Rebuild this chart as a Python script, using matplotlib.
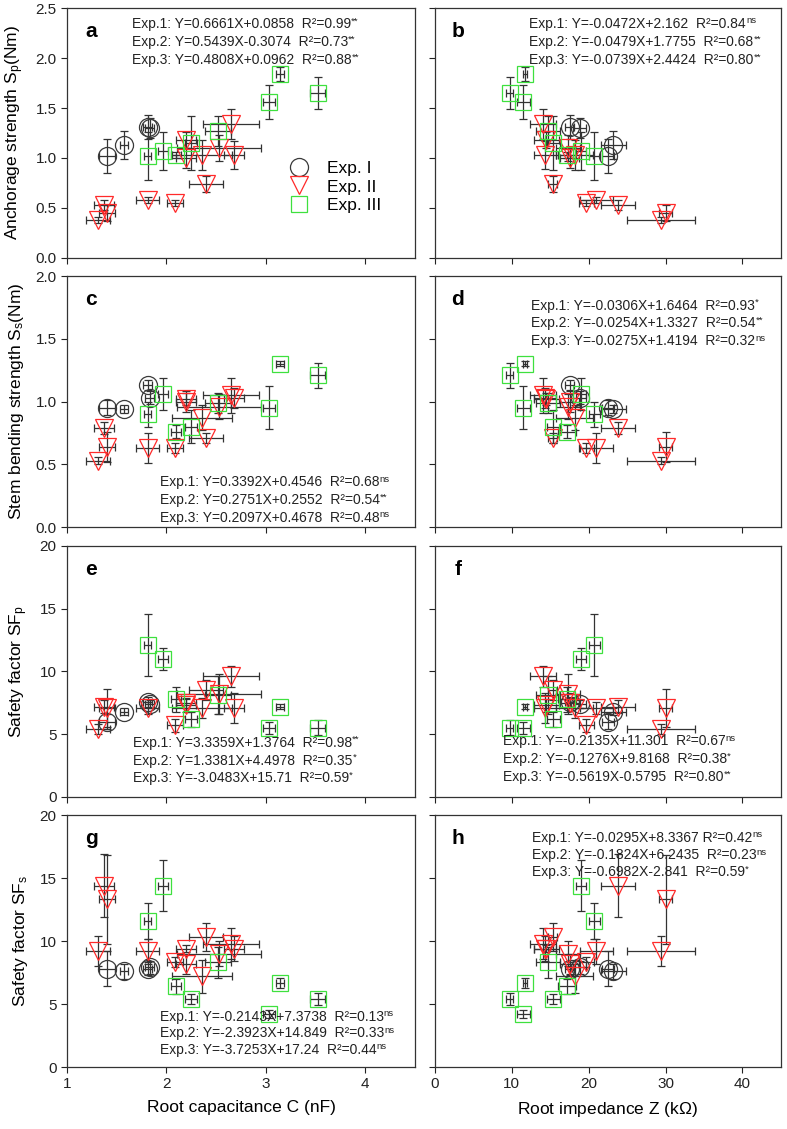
import numpy as np
import matplotlib
matplotlib.use('Agg')
import matplotlib.pyplot as plt
from matplotlib.lines import Line2D

plt.rcParams['font.family'] = ['Liberation Sans', 'DejaVu Sans']
plt.rcParams['mathtext.fontset'] = 'custom'
plt.rcParams['mathtext.rm'] = 'Liberation Sans'
plt.rcParams['mathtext.it'] = 'Liberation Sans:italic'
plt.rcParams['mathtext.bf'] = 'Liberation Sans:bold'

# ---- Exp. I (circles)
C1 = [1.40, 1.57, 1.81, 1.83]
C1e = [0.08, 0.04, 0.05, 0.05]
Z1 = [22.5, 23.2, 17.5, 18.8]
Z1e = [0.8, 1.6, 0.6, 0.8]
Sp1 = [1.02, 1.13, 1.31, 1.30]
Sp1e = [0.17, 0.14, 0.12, 0.10]
Ss1 = [0.95, 0.94, 1.13, 1.03]
Ss1e = [0.06, 0.03, 0.04, 0.05]
SFp1 = [6.0, 6.8, 7.6, 7.4]
SFp1e = [0.6, 0.3, 0.4, 0.3]
SFs1 = [7.8, 7.6, 7.8, 7.9]
SFs1e = [1.4, 0.6, 0.5, 0.5]

# ---- Exp. II (triangles)
C2 = [1.31, 1.37, 1.40, 1.81, 2.09, 2.20, 2.20, 2.36, 2.40, 2.53, 2.65, 2.68]
C2e = [0.12, 0.10, 0.08, 0.12, 0.08, 0.10, 0.10, 0.30, 0.17, 0.42, 0.28, 0.10]
Z2 = [29.4, 23.8, 30.0, 21.0, 19.7, 14.5, 17.5, 18.2, 15.3, 17.3, 14.1, 14.3]
Z2e = [4.4, 2.2, 0.8, 2.2, 1.0, 1.6, 1.2, 2.4, 0.6, 1.5, 1.7, 1.4]
Sp2 = [0.38, 0.53, 0.45, 0.58, 0.55, 1.18, 1.00, 1.03, 0.74, 1.10, 1.34, 1.03]
Sp2e = [0.03, 0.05, 0.08, 0.03, 0.03, 0.08, 0.10, 0.15, 0.08, 0.13, 0.15, 0.14]
Ss2 = [0.53, 0.79, 0.64, 0.63, 0.63, 1.02, 1.00, 0.87, 0.71, 0.96, 1.05, 1.03]
Ss2e = [0.03, 0.05, 0.12, 0.12, 0.04, 0.05, 0.08, 0.10, 0.04, 0.10, 0.14, 0.08]
SFp2 = [5.4, 7.2, 7.1, 7.1, 5.7, 7.3, 7.5, 7.1, 8.5, 8.2, 9.6, 7.1]
SFp2e = [0.4, 0.5, 1.5, 0.5, 0.5, 0.5, 0.4, 0.8, 0.8, 1.6, 0.8, 1.2]
SFs2 = [9.2, 14.4, 13.3, 9.2, 8.3, 9.4, 8.2, 7.2, 10.3, 9.0, 9.8, 9.4]
SFs2e = [1.2, 2.5, 3.5, 1.0, 0.4, 0.3, 0.8, 1.3, 1.1, 1.0, 1.2, 1.0]

# ---- Exp. III (squares)
C3 = [1.81, 1.97, 2.10, 2.25, 2.52, 3.03, 3.14, 3.52]
C3e = [0.04, 0.05, 0.05, 0.06, 0.13, 0.06, 0.04, 0.08]
Z3 = [20.7, 19.0, 17.2, 15.4, 14.7, 11.5, 11.7, 9.7]
Z3e = [0.7, 0.6, 1.2, 0.8, 1.6, 0.8, 0.3, 0.4]
Sp3 = [1.02, 1.07, 1.03, 1.15, 1.27, 1.56, 1.84, 1.65]
Sp3e = [0.24, 0.19, 0.03, 0.27, 0.15, 0.17, 0.07, 0.16]
Ss3 = [0.90, 1.06, 0.76, 0.80, 0.99, 0.95, 1.30, 1.21]
Ss3e = [0.10, 0.13, 0.05, 0.13, 0.08, 0.17, 0.02, 0.10]
SFp3 = [12.1, 11.0, 7.8, 6.2, 8.1, 5.5, 7.2, 5.5]
SFp3e = [2.5, 0.9, 1.0, 0.6, 1.5, 0.5, 0.2, 0.6]
SFs3 = [11.6, 14.4, 6.4, 5.4, 8.3, 4.2, 6.7, 5.4]
SFs3e = [1.4, 2.0, 0.6, 0.4, 1.2, 0.3, 0.4, 0.5]

exp_labels = ['Exp. I', 'Exp. II', 'Exp. III']

# regression text: (main text, significance superscript)
eq_a = [('Exp.1: Y=0.6661X+0.0858  R²=0.99', '**'),
        ('Exp.2: Y=0.5439X-0.3074  R²=0.73', '**'),
        ('Exp.3: Y=0.4808X+0.0962  R²=0.88', '**')]
eq_b = [('Exp.1: Y=-0.0472X+2.162  R²=0.84', 'ns'),
        ('Exp.2: Y=-0.0479X+1.7755  R²=0.68', '**'),
        ('Exp.3: Y=-0.0739X+2.4424  R²=0.80', '**')]
eq_c = [('Exp.1: Y=0.3392X+0.4546  R²=0.68', 'ns'),
        ('Exp.2: Y=0.2751X+0.2552  R²=0.54', '**'),
        ('Exp.3: Y=0.2097X+0.4678  R²=0.48', 'ns')]
eq_d = [('Exp.1: Y=-0.0306X+1.6464  R²=0.93', '*'),
        ('Exp.2: Y=-0.0254X+1.3327  R²=0.54', '**'),
        ('Exp.3: Y=-0.0275X+1.4194  R²=0.32', 'ns')]
eq_e = [('Exp.1: Y=3.3359X+1.3764  R²=0.98', '**'),
        ('Exp.2: Y=1.3381X+4.4978  R²=0.35', '*'),
        ('Exp.3: Y=-3.0483X+15.71  R²=0.59', '*')]
eq_f = [('Exp.1: Y=-0.2135X+11.301  R²=0.67', 'ns'),
        ('Exp.2: Y=-0.1276X+9.8168  R²=0.38', '*'),
        ('Exp.3: Y=-0.5619X-0.5795  R²=0.80', '**')]
eq_g = [('Exp.1: Y=-0.2143X+7.3738  R²=0.13', 'ns'),
        ('Exp.2: Y=-2.3923X+14.849  R²=0.33', 'ns'),
        ('Exp.3: Y=-3.7253X+17.24  R²=0.44', 'ns')]
eq_h = [('Exp.1: Y=-0.0295X+8.3367 R²=0.42', 'ns'),
        ('Exp.2: Y=-0.1824X+6.2435  R²=0.23', 'ns'),
        ('Exp.3: Y=-0.6982X-2.841  R²=0.59', '*')]

styles = [dict(marker='o', mec='#3a3a3a', ms=13),
          dict(marker='v', mec='#ff2a2a', ms=13),
          dict(marker='s', mec='#3ee03e', ms=11)]

xs_left = [(C1, C1e), (C2, C2e), (C3, C3e)]
xs_right = [(Z1, Z1e), (Z2, Z2e), (Z3, Z3e)]

rows = [
    dict(ys=[(Sp1, Sp1e), (Sp2, Sp2e), (Sp3, Sp3e)], ylim=(0, 2.5), yticks=np.arange(0, 2.51, 0.5),
         ylabel=r'Anchorage strength S$_\mathrm{p}$(Nm)', bottom=0.7715, height=0.2214,
         letters=('a', 'b'), eqs=(eq_a, eq_b),
         eqpos=((0.186, [0.936, 0.864, 0.792]), (0.273, [0.936, 0.864, 0.792]))),
    dict(ys=[(Ss1, Ss1e), (Ss2, Ss2e), (Ss3, Ss3e)], ylim=(0, 2.0), yticks=np.arange(0, 2.01, 0.5),
         ylabel=r'Stem bending strength S$_\mathrm{s}$(Nm)', bottom=0.5332, height=0.2223,
         letters=('c', 'd'), eqs=(eq_c, eq_d),
         eqpos=((0.267, [0.178, 0.107, 0.036]), (0.277, [0.882, 0.811, 0.740]))),
    dict(ys=[(SFp1, SFp1e), (SFp2, SFp2e), (SFp3, SFp3e)], ylim=(0, 20), yticks=np.arange(0, 21, 5),
         ylabel=r'Safety factor SF$_\mathrm{p}$', bottom=0.2941, height=0.2223,
         letters=('e', 'f'), eqs=(eq_e, eq_f),
         eqpos=((0.19, [0.216, 0.145, 0.074]), (0.197, [0.222, 0.151, 0.080]))),
    dict(ys=[(SFs1, SFs1e), (SFs2, SFs2e), (SFs3, SFs3e)], ylim=(0, 20), yticks=np.arange(0, 21, 5),
         ylabel=r'Safety factor SF$_\mathrm{s}$', bottom=0.0549, height=0.2232,
         letters=('g', 'h'), eqs=(eq_g, eq_h),
         eqpos=((0.267, [0.200, 0.134, 0.068]), (0.281, [0.909, 0.841, 0.773]))),
]

fig = plt.figure(figsize=(7.87, 11.29), dpi=100)

for r, row in enumerate(rows):
    for side in range(2):
        if side == 0:
            ax = fig.add_axes([0.0851, row['bottom'], 0.4422, row['height']])
            xs = xs_left
            ax.set_xlim(1, 4.5)
            ax.set_xticks([1, 2, 3, 4])
        else:
            ax = fig.add_axes([0.5527, row['bottom'], 0.4396, row['height']])
            xs = xs_right
            ax.set_xlim(0, 45)
            ax.set_xticks([0, 10, 20, 30, 40])
        ax.set_ylim(*row['ylim'])
        ax.set_yticks(row['yticks'])

        for k in range(3):
            x, xe = xs[k]
            y, ye = row['ys'][k]
            ax.errorbar(x, y, xerr=xe, yerr=ye, fmt='none', ecolor='#333333',
                        elinewidth=0.9, capsize=3, capthick=0.9, zorder=2)
            ax.plot(x, y, ls='none', mfc='none', mew=0.9, zorder=3, **styles[k])

        ax.tick_params(direction='out', length=4, width=0.8, labelsize=11,
                       top=False, right=False, colors='#222222')
        for sp in ax.spines.values():
            sp.set_linewidth(0.9)
            sp.set_color('#333333')

        if side == 0:
            ax.set_ylabel(row['ylabel'], fontsize=12.5, labelpad=7)
        else:
            ax.set_yticklabels([])
        if r < 3:
            ax.set_xticklabels([])
        else:
            if side == 0:
                ax.set_xlabel('Root capacitance C (nF)', fontsize=12.5, labelpad=6)
            else:
                ax.set_xlabel(r'Root impedance Z (k$\Omega$)', fontsize=12.5, labelpad=6)

        ax.text(0.07 if side == 0 else 0.066, 0.905, row['letters'][side], transform=ax.transAxes,
                fontsize=15, fontweight='bold', ha='center', va='center')

        ex, eys = row['eqpos'][side]
        for (main, sup), ey in zip(row['eqs'][side], eys):
            t = ax.text(ex, ey, main, transform=ax.transAxes, fontsize=10.0,
                        ha='left', va='center', color='#222222')
            ax.annotate(sup, xy=(1.0, 0.72), xycoords=t, fontsize=6.8,
                        ha='left', va='center', color='#222222')

        if r == 0 and side == 0:
            handles = [Line2D([], [], ls='none', mfc='none', mew=0.9, **styles[k]) for k in range(3)]
            ax.legend(handles, exp_labels, loc='center left', bbox_to_anchor=(0.637, 0.284),
                      frameon=False, fontsize=12.5, labelspacing=0.2, handlelength=1.2,
                      handletextpad=1.0, borderpad=0, borderaxespad=0)

fig.savefig('out.png', dpi=100)
